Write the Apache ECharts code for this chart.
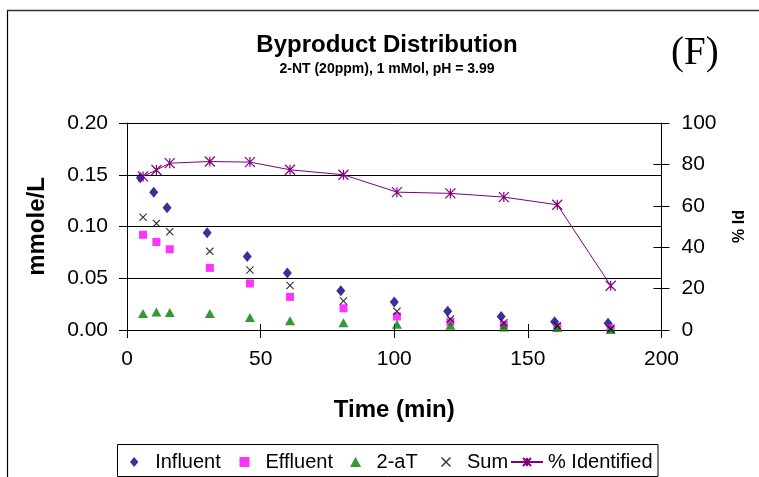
<!DOCTYPE html>
<html><head><meta charset="utf-8">
<script src="https://cdn.jsdelivr.net/npm/echarts@6/dist/echarts.min.js"></script>
<style>html,body{margin:0;padding:0;background:#fff}#c{width:759px;height:477px}</style>
</head><body><div id="c"></div>
<script>
var timeInfluent = [5, 10, 15, 30, 45, 60, 80, 100, 120, 140, 160, 180];
var timeOther = [6, 11, 16, 31, 46, 61, 81, 101, 121, 141, 161, 181];
var influent = [0.147, 0.133, 0.118, 0.094, 0.071, 0.055, 0.038, 0.027, 0.018, 0.013, 0.008, 0.0065];
var effluent = [0.092, 0.085, 0.078, 0.060, 0.045, 0.032, 0.021, 0.013, 0.008, 0.005, 0.003, 0.0016];
var twoAT = [0.016, 0.0175, 0.017, 0.016, 0.012, 0.009, 0.007, 0.0055, 0.0045, 0.003, 0.0025, 0.0005];
var sum = [0.109, 0.103, 0.095, 0.076, 0.058, 0.043, 0.028, 0.018, 0.0106, 0.007, 0.004, 0.001];
var pctIdentified = [74.2, 77.3, 80.6, 81.4, 81.1, 77.4, 75.0, 66.6, 66.0, 64.2, 60.5, 21.4];
var seriesNames = ['Influent', 'Effluent', '2-aT', 'Sum', '% Identified'];
var leftTicks = {min: 0, max: 0.2, interval: 0.05};
var rightTicks = {min: 0, max: 100, interval: 20};
var xTicks = {min: 0, max: 200, interval: 50};

function pairs(xs, ys) { return xs.map(function (x, i) { return [x, ys[i]]; }); }

var FONT = 'Liberation Sans, Arial, sans-serif';
var diamondPath = 'path://M5,0L10,6L5,12L0,6Z';
var squarePath = 'path://M0,0L10,0L10,10L0,10Z';
var trianglePath = 'path://M5,0L10,9L0,9Z';
var xPath = 'path://M0,1L1,0L5,4L9,0L10,1L6,5L10,9L9,10L5,6L1,10L0,9L4,5Z';
var starPath = 'path://M0,0L10,10M10,0L0,10M5,0L5,10';
var legendIcons = [diamondPath, squarePath, trianglePath, xPath, null];
var legendLefts = [130, 239.5, 350, 441, 510];

var chart = echarts.init(document.getElementById('c'), null, {renderer: 'canvas'});
var axisTxt = {color: '#000', fontFamily: FONT, fontSize: 21};
var nameTxt = {fontFamily: FONT, fontWeight: 'bold', fontSize: 24, color: '#000'};
var noZero = {show: true, onZero: false, lineStyle: {color: '#000', width: 1}};

var legends = seriesNames.map(function (n, i) {
  var d = {name: n};
  if (legendIcons[i]) d.icon = legendIcons[i];
  return {
    left: legendLefts[i], top: 452, orient: 'horizontal', padding: 0,
    itemWidth: 32, itemHeight: 10, symbolKeepAspect: true,
    textStyle: {fontFamily: FONT, fontSize: 20, color: '#000'},
    data: [d]
  };
});

chart.setOption({
  animation: false,
  backgroundColor: '#fff',
  title: [
    {text: 'Byproduct Distribution', left: 382, top: 28, textAlign: 'center',
     textStyle: {fontFamily: FONT, fontWeight: 'bold', fontSize: 24, color: '#000'}},
    {text: '2-NT (20ppm), 1 mMol, pH = 3.99', left: 382, top: 57.5, textAlign: 'center',
     textStyle: {fontFamily: FONT, fontWeight: 'bold', fontSize: 14, color: '#000'}},
    {text: '(F)', left: 666, top: 29,
     textStyle: {fontFamily: 'Liberation Serif, Times New Roman, serif', fontWeight: 'normal', fontSize: 39, color: '#000'}}
  ],
  grid: {left: 127, right: 97.5, top: 123, bottom: 147, containLabel: false},
  xAxis: [
    {type: 'value', position: 'bottom', min: xTicks.min, max: xTicks.max, interval: xTicks.interval,
     name: 'Time (min)', nameLocation: 'middle', nameGap: 68, nameTextStyle: nameTxt,
     axisLine: noZero,
     axisTick: {show: true, inside: false, length: 8, lineStyle: {color: '#000'}},
     axisLabel: Object.assign({margin: 19}, axisTxt),
     splitLine: {show: false}},
    {type: 'value', position: 'bottom', min: xTicks.min, max: xTicks.max, interval: xTicks.interval,
     axisLine: {show: false, onZero: false}, axisLabel: {show: false}, splitLine: {show: false},
     axisTick: {show: true, inside: true, length: 6, lineStyle: {color: '#000'}}}
  ],
  yAxis: [
    {type: 'value', position: 'left', min: leftTicks.min, max: leftTicks.max, interval: leftTicks.interval,
     name: 'mmole/L', nameLocation: 'middle', nameGap: 78, nameRotate: 90, nameTextStyle: nameTxt,
     axisLine: noZero,
     axisTick: {show: true, inside: false, length: 8, lineStyle: {color: '#000'}},
     axisLabel: Object.assign({margin: 19, formatter: function (v) { return v.toFixed(2); }}, axisTxt),
     splitLine: {show: true, lineStyle: {color: '#000', width: 1}}},
    {type: 'value', position: 'right', min: rightTicks.min, max: rightTicks.max, interval: rightTicks.interval,
     name: '% Id', nameLocation: 'middle', nameGap: 70, nameRotate: 90,
     nameTextStyle: {fontFamily: FONT, fontWeight: 'bold', fontSize: 16, color: '#000'},
     axisLine: noZero,
     axisTick: {show: true, inside: false, length: 8, lineStyle: {color: '#000'}},
     axisLabel: Object.assign({margin: 20}, axisTxt),
     splitLine: {show: false}},
    {type: 'value', position: 'right', min: rightTicks.min, max: rightTicks.max, interval: rightTicks.interval,
     axisLine: {show: false, onZero: false}, axisLabel: {show: false}, splitLine: {show: false},
     axisTick: {show: true, inside: true, length: 8, lineStyle: {color: '#000'}}}
  ],
  legend: legends,
  series: [
    {name: seriesNames[0], type: 'scatter', xAxisIndex: 0, yAxisIndex: 0, symbol: 'diamond', symbolSize: [9, 11],
     itemStyle: {color: '#000080'}, data: pairs(timeInfluent, influent)},
    {name: seriesNames[1], type: 'scatter', xAxisIndex: 0, yAxisIndex: 0, symbol: 'rect', symbolSize: 8,
     itemStyle: {color: '#FF00FF'}, data: pairs(timeOther, effluent)},
    {name: seriesNames[2], type: 'scatter', xAxisIndex: 0, yAxisIndex: 0, symbol: 'triangle', symbolSize: [10, 9],
     itemStyle: {color: '#008000'}, data: pairs(timeOther, twoAT)},
    {name: seriesNames[3], type: 'scatter', xAxisIndex: 0, yAxisIndex: 0, symbol: xPath, symbolSize: 8,
     itemStyle: {color: '#000'}, data: pairs(timeOther, sum)},
    {name: seriesNames[4], type: 'line', xAxisIndex: 0, yAxisIndex: 1, symbol: starPath, symbolSize: 10,
     showAllSymbol: true,
     lineStyle: {color: '#800080', width: 1},
     itemStyle: {color: '#800080', borderColor: '#800080', borderWidth: 1.2},
     data: pairs(timeOther, pctIdentified)}
  ],
  graphic: [
    {type: 'line', shape: {x1: 7.5, y1: 10, x2: 7.5, y2: 477}, style: {stroke: '#000', lineWidth: 1.2}},
    {type: 'line', shape: {x1: 7, y1: 10.5, x2: 759, y2: 10.5}, style: {stroke: '#333', lineWidth: 1.5}},
    {type: 'rect', shape: {x: 117.5, y: 444.5, width: 540.5, height: 32}, style: {fill: 'none', stroke: '#000', lineWidth: 1}}
  ]
});
</script></body></html>
